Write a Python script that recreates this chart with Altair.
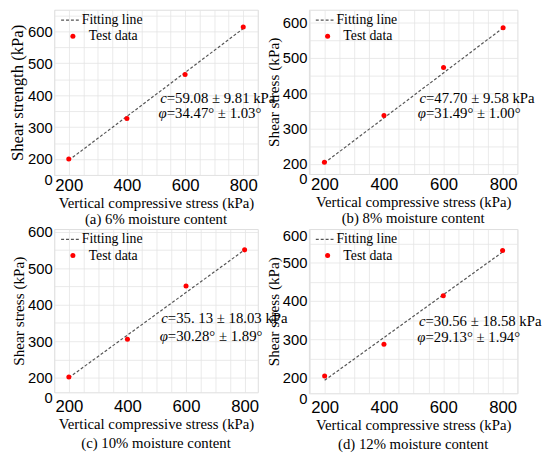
import altair as alt
import pandas as pd

# ---- data ----
X_STRESS = [200, 400, 600, 800]
FIT_X = [200, 800]

Y_A = [200, 327, 465, 614]
FIT_A = [196, 609]
Y_B = [205, 337, 473, 585]
FIT_B = [203, 585]
Y_C = [202, 305, 451, 550]
FIT_C = [200, 550]
Y_D = [204, 287, 414, 532]
FIT_D = [193, 528]

SERIES = ["Fitting line", "Test data"]
X_TICKS = [200, 400, 600, 800]
Y_TICKS = [200, 300, 400, 500, 600]

CAPTIONS = ["(a) 6% moisture content", "(b) 8% moisture content",
            "(c) 10% moisture content", "(d) 12% moisture content"]
Y_TITLES = ["Shear strength (kPa)", "Shear stress (kPa)",
            "Shear stress (kPa)", "Shear stress (kPa)"]
C_TEXT = ["=59.08 ± 9.81 kPa", "=47.70 ± 9.58 kPa",
          "=35. 13 ± 18.03 kPa", "=30.56 ± 18.58 kPa"]
PHI_TEXT = ["=34.47° ± 1.03°", "=31.49° ± 1.00°",
            "=30.28° ± 1.89°", "=29.13° ± 1.94°"]
# annotation anchors in data units (kPa)
ANN_X = [537, 541, 538, 540]
ANN_YC = [391, 386, 362, 347]
ANN_YPHI = [345, 344, 313, 307]

FONT = "Liberation Serif"


def panel(i, ypts, fity, xdom, ydom, ybot, ytop, w, h, xlab_pad, cap_off, ytitle_size):
    pts = pd.DataFrame({"x": X_STRESS, "y": ypts, "s": SERIES[1]})
    fit = pd.DataFrame({"x": FIT_X, "y": fity, "s": SERIES[0]})
    ann = pd.DataFrame({"x": [ANN_X[i], ANN_X[i]],
                        "y": [ANN_YC[i], ANN_YPHI[i]],
                        "sym": ["c", "φ"],
                        "txt": [C_TEXT[i], PHI_TEXT[i]]})
    xs = alt.Scale(domain=xdom, nice=False, zero=False)
    ys = alt.Scale(domain=ydom, nice=False, zero=False)
    gx = [v for v in range(150, 851, 50) if xdom[0] <= v <= xdom[1]]
    gy = [v for v in range(150, 701, 50) if ydom[0] <= v <= ydom[1]]

    line = alt.Chart(fit).mark_line(strokeDash=[3, 2], strokeWidth=1.2).encode(
        x=alt.X("x:Q", scale=xs, axis=alt.Axis(values=gx, grid=True, labels=False, ticks=False,
                                               domain=False, title=None, orient="bottom",
                                               gridColor="#e4e4e4", gridWidth=0.8)),
        y=alt.Y("y:Q", scale=ys, axis=alt.Axis(values=gy, grid=True, labels=False, ticks=False,
                                               domain=False, title=None, orient="left",
                                               gridColor="#e4e4e4", gridWidth=0.8)),
        color=alt.Color("s:N", scale=alt.Scale(domain=[SERIES[0]], range=["#555555"]),
                        legend=alt.Legend(title=None, orient="none", legendX=6, legendY=0,
                                          symbolType="stroke",
                                          symbolDash=[3, 2], symbolSize=361, symbolStrokeWidth=1.2,
                                          symbolStrokeColor="#555555", padding=0,
                                          labelOffset=1, labelFont=FONT, labelFontSize=14,
                                          labelColor="black")),
    )
    yvals = [ybot] + Y_TICKS[:-1] + [ytop]
    expr = ("datum.value == %s ? '0' : (datum.value == %s ? '600' : datum.label)"
            % (ybot, ytop))
    points = alt.Chart(pts).mark_circle(size=26, opacity=1).encode(
        x=alt.X("x:Q", scale=xs, axis=alt.Axis(values=X_TICKS, grid=False, ticks=False, domain=False,
                                               title="Vertical compressive stress (kPa)",
                                               orient="bottom", labelFlush=False, labelPadding=xlab_pad,
                                               labelFontSize=17, titlePadding=2,
                                               titleFont=FONT, titleFontSize=15,
                                               titleFontWeight="normal", titleColor="black")),
        y=alt.Y("y:Q", scale=ys, axis=alt.Axis(values=yvals, labelExpr=expr, grid=False, ticks=False,
                                               domain=False, title=Y_TITLES[i], orient="left",
                                               labelFlush=False, labelPadding=2, labelFontSize=15,
                                               labelBaseline="middle",
                                               labelOffset={"condition": {"test": "datum.value == %s" % ybot,
                                                                          "value": 5},
                                                            "value": 0},
                                               titlePadding=1, labelOverlap=False,
                                               titleFont=FONT, titleFontSize=ytitle_size,
                                               titleFontWeight="normal", titleColor="black")),
        fill=alt.Fill("s:N", scale=alt.Scale(domain=[SERIES[1]], range=["#ff0000"]),
                      legend=alt.Legend(title=None, orient="none", legendX=12, legendY=20,
                                        symbolType="circle",
                                        symbolSize=26, padding=0,
                                        labelOffset=9, labelFont=FONT, labelFontSize=14,
                                        labelColor="black", symbolStrokeWidth=0)),
    )
    sym = alt.Chart(ann).mark_text(align="right", baseline="middle", font=FONT, fontSize=15,
                                   fontStyle="italic", color="black").encode(
        x=alt.X("x:Q", scale=xs, axis=None), y=alt.Y("y:Q", scale=ys, axis=None), text="sym:N")
    txt = alt.Chart(ann).mark_text(align="left", baseline="middle", font=FONT, fontSize=15,
                                   color="black").encode(
        x=alt.X("x:Q", scale=xs, axis=None), y=alt.Y("y:Q", scale=ys, axis=None), text="txt:N")

    return alt.layer(line, points, sym, txt).resolve_axis(
        x="independent", y="independent").properties(
        width=w, height=h,
        title=alt.TitleParams(CAPTIONS[i], orient="bottom", font=FONT, fontSize=15,
                              fontWeight="normal", color="black", offset=cap_off))


pa = panel(0, Y_A, FIT_A, [150, 850], [150, 668], 150, 600, 207, 168, 3, 2, 17)
pb = panel(1, Y_B, FIT_B, [148, 848], [172, 636], 172, 600, 212, 167, 3, 2, 15.5)
pc = panel(2, Y_C, FIT_C, [150, 845], [160, 607], 160, 600, 207, 166, 7, 5, 15.5)
pd_ = panel(3, Y_D, FIT_D, [147, 850], [159, 588], 159, 570, 212, 167, 7, 5, 15.5)

chart = alt.concat(pa, pb, pc, pd_, columns=2, spacing={"row": 55, "column": 52},
                   bounds="flush").resolve_scale(
    color="independent", fill="independent").resolve_legend(
    color="independent", fill="independent").properties(
    padding={"left": 0, "top": -3, "right": 0, "bottom": 0}).configure_axis(
    labelFont=FONT, labelColor="black").configure_view(
    stroke="#8a8a8a", strokeWidth=1).configure(background="white")

chart.save("out.html", embed_options={"renderer": "svg", "actions": False})
